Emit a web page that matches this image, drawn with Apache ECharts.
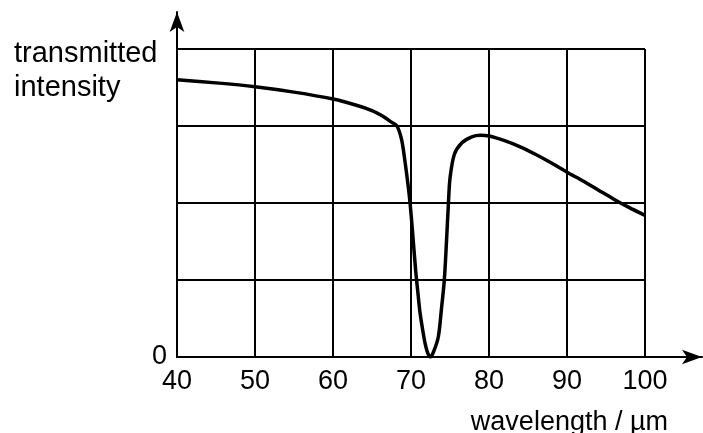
<!DOCTYPE html>
<html>
<head>
<meta charset="utf-8">
<script src="https://cdn.jsdelivr.net/npm/echarts@6/dist/echarts.min.js"></script>
<style>
  html, body { margin: 0; padding: 0; background: #fff; }
  #chart { width: 703px; height: 433px; }
</style>
</head>
<body>
<div id="chart"></div>
<script>
// wavelength in µm
var wavelength = [40, 45, 50, 55, 60, 63, 65, 66.5, 67.5, 68.2, 68.8, 69.2, 69.65, 69.9, 70.2,
  70.6, 70.9, 71.15, 71.5, 71.8, 72.15, 72.5, 72.9, 73.5, 73.9, 74.27, 74.55, 74.8, 75.0, 75.55,
  76.5, 77.8, 78.9, 80, 82, 84, 86, 88, 90, 92, 94, 96, 98, 100];
// transmitted intensity (grid units)
var intensity = [3.60, 3.56, 3.51, 3.44, 3.35, 3.27, 3.20, 3.12, 3.05, 3.00, 2.82, 2.56, 2.21, 1.98, 1.62,
  1.12, 0.82, 0.58, 0.35, 0.18, 0.05, 0.00, 0.07, 0.26, 0.62, 1.00, 1.50, 2.00, 2.32, 2.63,
  2.78, 2.86, 2.88, 2.87, 2.81, 2.73, 2.63, 2.52, 2.40, 2.29, 2.17, 2.05, 1.94, 1.84];
var xTicks = [40, 50, 60, 70, 80, 90, 100];

var font = '"Liberation Sans", Arial, Helvetica, sans-serif';
var chart = echarts.init(document.getElementById('chart'));

var points = wavelength.map(function (w, i) { return [w, intensity[i]]; });

var option = {
  backgroundColor: '#fff',
  animation: false,
  title: [{
    text: 'transmitted\nintensity',
    left: 9,
    top: 32,
    textStyle: { fontFamily: font, fontSize: 29, fontWeight: 'normal', color: '#000', lineHeight: 34 }
  }, {
    text: 'wavelength / µm',
    right: 30,
    top: 404,
    textStyle: { fontFamily: font, fontSize: 27, fontWeight: 'normal', color: '#000' }
  }],
  grid: [
    { left: 177, right: 58, top: 49, bottom: 76 },
    { left: 177, right: 1, top: 12, bottom: 76 }
  ],
  xAxis: [{
    gridIndex: 0,
    type: 'value',
    min: xTicks[0],
    max: xTicks[xTicks.length - 1],
    interval: 10,
    axisLine: { show: false },
    axisTick: { show: false },
    axisLabel: {
      margin: 11,
      fontFamily: font, fontSize: 27, color: '#000'
    },
    splitLine: { show: true, lineStyle: { color: '#000', width: 2 } }
  }, {
    gridIndex: 1,
    type: 'value',
    min: 0, max: 1,
    axisLine: {
      show: true, symbol: ['none', 'arrow'], symbolSize: [11, 20],
      lineStyle: { color: '#000', width: 2 }
    },
    axisTick: { show: false },
    axisLabel: { show: false },
    splitLine: { show: false }
  }],
  yAxis: [{
    gridIndex: 0,
    type: 'value',
    min: 0,
    max: 4,
    interval: 1,
    axisLine: { show: false },
    axisTick: { show: false },
    axisLabel: {
      margin: 10,
      fontFamily: font, fontSize: 27, color: '#000',
      verticalAlign: 'middle',
      padding: [0, 0, 4, 0],
      formatter: function (v) { return v === 0 ? '0' : ''; }
    },
    splitLine: { show: true, lineStyle: { color: '#000', width: 2 } }
  }, {
    gridIndex: 1,
    type: 'value',
    min: 0, max: 1,
    axisLine: {
      show: true, symbol: ['none', 'arrow'], symbolSize: [11, 20],
      lineStyle: { color: '#000', width: 2 }
    },
    axisTick: { show: false },
    axisLabel: { show: false },
    splitLine: { show: false }
  }],
  series: [{
    type: 'line',
    xAxisIndex: 0,
    yAxisIndex: 0,
    data: points,
    smooth: 0.3,
    showSymbol: false,
    lineStyle: { color: '#000', width: 3.5 }
  }]
};

chart.setOption(option);
</script>
</body>
</html>
